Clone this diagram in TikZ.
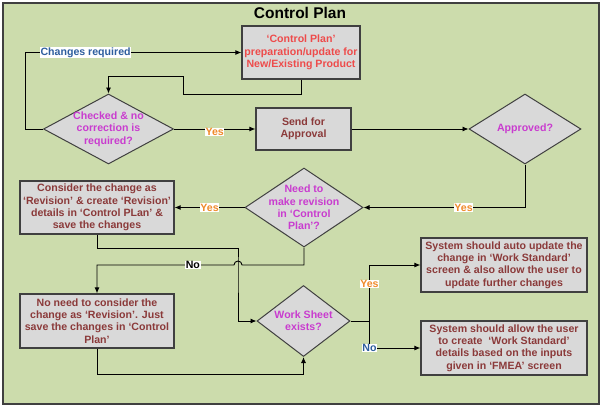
\documentclass[tikz,border=0pt]{standalone}
\usepackage{fontspec}
\setmainfont{Liberation Sans}
\usetikzlibrary{shapes.geometric,arrows.meta}

\definecolor{bggreen}{HTML}{CCDCAC}
\definecolor{edge}{HTML}{404040}
\definecolor{boxgray}{HTML}{D9D9D9}
\definecolor{boxtext}{HTML}{8B3A3A}
\definecolor{initred}{HTML}{EE4B4B}
\definecolor{ask}{HTML}{C93CCF}
\definecolor{yesorange}{HTML}{F08A2A}
\definecolor{noblue}{HTML}{2E5E9E}

\begin{document}
\begin{tikzpicture}[x=1pt,y=-1pt,
  box/.style={rectangle,draw=edge,fill=boxgray,line width=1.2pt,inner sep=0pt,align=center,text=boxtext,font=\bfseries\fontsize{10.6}{12.4}\selectfont},
  decision/.style={diamond,draw=edge,fill=boxgray,line width=1pt,inner sep=-12pt,align=center,text=ask,font=\bfseries\fontsize{10.6}{12.4}\selectfont},
  wire/.style={line width=0.9pt},
  flow/.style={wire,-{Latex[length=6pt,width=5pt]}},
  lab/.style={fill=white,inner sep=0.6pt,font=\bfseries\fontsize{10.6}{12}\selectfont}]
\useasboundingbox (0,0) rectangle (602,407);
\draw[draw=edge,line width=1.6pt,fill=bggreen] (3,3) rectangle (599,404);

\node[font=\bfseries\fontsize{15.5}{18}\selectfont] (title) at (300,13) {Control Plan};

\node[box,text=initred,minimum width=118pt,minimum height=53pt] (init) at (301,52.5) {‘Control Plan’\\preparation/update for\\New/Existing Product};
\node[decision,minimum width=130pt,minimum height=70pt] (check) at (108.5,129) {Checked \& no\\correction is\\required?};
\node[box,minimum width=95pt,minimum height=42pt] (send) at (303.5,129) {Send for\\Approval};
\node[decision,minimum width=112pt,minimum height=70pt] (approved) at (525,129) {Approved?};
\node[decision,minimum width=118pt,minimum height=79pt] (revise) at (304,207.5) {Need to\\make revision\\in ‘Control\\Plan’?};
\node[box,minimum width=154pt,minimum height=53pt] (consider) at (97,207.5) {Consider the change as\\‘Revision’ \& create ‘Revision’\\details in ‘Control PLan’ \&\\save the changes};
\node[box,minimum width=154pt,minimum height=54pt] (justsave) at (97,321) {No need to consider the\\change as ‘Revision’. Just\\save the changes in ‘Control\\Plan’};
\node[decision,minimum width=93pt,minimum height=71pt] (worksheet) at (303.5,321) {Work Sheet\\exists?};
\node[box,minimum width=166pt,minimum height=54pt] (autoupd) at (504,265) {System should auto update the\\change in ‘Work Standard’\\screen \& also allow the user to\\update further changes};
\node[box,minimum width=166pt,minimum height=54pt] (create) at (504,348) {System should allow the user\\to create\ \ ‘Work Standard’\\details based on the inputs\\given in ‘FMEA’ screen};

\draw[flow] (init.south) -- ++(0,15) -- ++(-118,0) -- ++(0,-18) -| (check.north);
\draw[flow] (check.west) -- ++(-18,0) |- node[lab,text=noblue,pos=0.64] {Changes required} (init.west);
\draw[flow] (check.east) -- node[lab,text=yesorange,yshift=-3pt] {Yes} (send.west);
\draw[flow] (send.east) -- (approved.west);
\draw[flow] (approved.south) |- node[lab,text=yesorange,pos=0.69] {Yes} (revise.east);
\draw[flow] (revise.west) -- node[lab,text=yesorange] {Yes} (consider.east);

\coordinate (hop) at (238,265);
\draw[flow] (consider.south) -- ++(0,14) -| (hop) |- (worksheet.west);
\draw[flow] (revise.south) |- ([xshift=4pt]hop) arc[start angle=0,end angle=180,radius=4pt] -| node[lab,pos=0.15] {No} (justsave.north);
\draw[flow] (justsave.south) -- ++(0,26) -| (worksheet.south);

\coordinate (fork) at ([xshift=19pt]worksheet.east);
\draw[wire] (worksheet.east) -- (fork);
\draw[flow] (fork) |- node[lab,text=yesorange,pos=0.33] {Yes} (autoupd.west);
\draw[flow] (fork) |- node[lab,text=noblue,pos=0.5] {No} (create.west);
\end{tikzpicture}
\end{document}
